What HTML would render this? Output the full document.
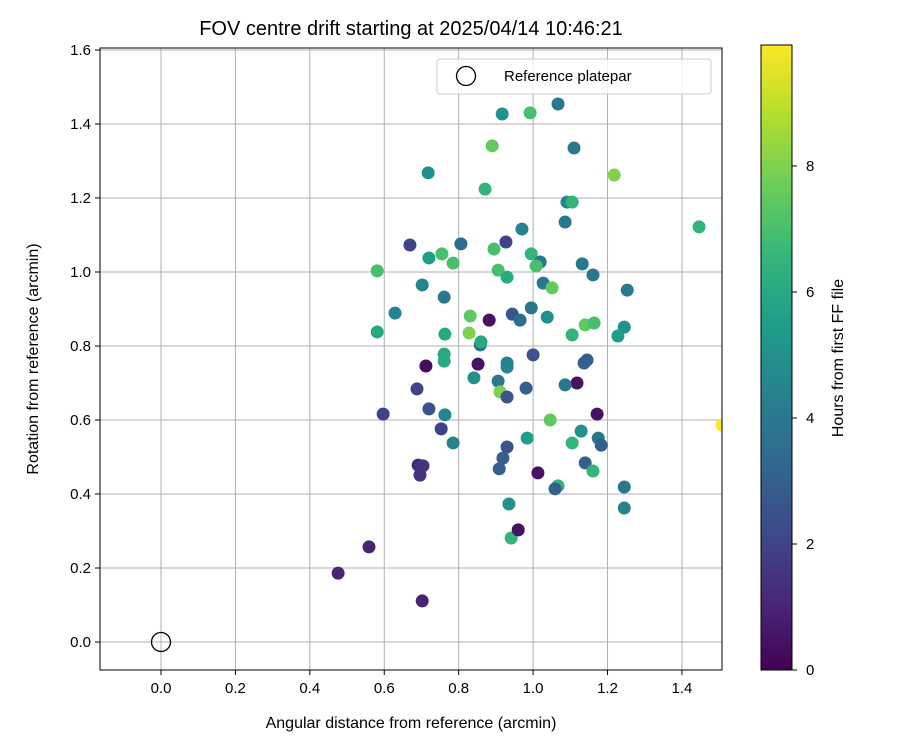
<!DOCTYPE html>
<html><head><meta charset="utf-8"><style>
body{margin:0;background:#fff;}
svg{display:block;font-family:"Liberation Sans","DejaVu Sans",sans-serif;}
</style></head><body>
<svg id="chart" width="900" height="750"></svg>
<script>
const xs=[1.067,0.917,0.992,0.890,1.110,0.718,1.218,0.871,1.091,1.105,1.446,0.970,1.086,0.669,0.806,0.927,0.895,0.755,0.720,0.995,1.019,0.785,1.008,0.581,0.906,1.132,0.930,1.161,0.702,1.027,1.051,1.253,0.761,0.629,0.995,0.944,1.038,0.831,0.965,0.882,1.140,1.164,1.245,0.581,0.763,1.105,1.228,0.828,0.858,0.860,0.712,0.761,0.761,0.852,0.930,0.930,1.000,1.137,1.145,0.841,0.906,1.118,1.086,0.981,0.688,0.911,0.930,0.597,0.720,0.763,1.172,1.046,1.508,0.753,1.129,0.785,0.984,1.105,1.175,1.183,0.930,0.919,0.691,0.704,0.696,0.909,1.013,1.067,1.059,1.140,1.161,1.245,0.935,1.245,0.941,0.960,0.559,0.476,0.702];
const ys=[1.454,1.427,1.430,1.341,1.335,1.268,1.262,1.224,1.189,1.189,1.122,1.116,1.135,1.073,1.076,1.081,1.062,1.049,1.038,1.049,1.027,1.024,1.016,1.003,1.005,1.022,0.986,0.992,0.965,0.970,0.957,0.951,0.932,0.889,0.903,0.886,0.878,0.881,0.870,0.870,0.857,0.862,0.851,0.838,0.832,0.830,0.827,0.835,0.803,0.811,0.746,0.778,0.759,0.751,0.754,0.743,0.776,0.754,0.762,0.714,0.705,0.700,0.695,0.686,0.684,0.676,0.662,0.616,0.630,0.614,0.616,0.600,0.586,0.576,0.570,0.538,0.551,0.538,0.551,0.532,0.527,0.497,0.478,0.476,0.451,0.468,0.457,0.422,0.414,0.484,0.462,0.419,0.373,0.362,0.281,0.303,0.257,0.186,0.111];
const hours=[4,5,7,7.5,4,5,8,6.5,4.5,6.5,6.5,4.5,4,2,3.5,2,7,7,5.5,6.5,4,7,7,7,7,4,6,4,4.5,4,7.5,4,4,4.5,4,2.5,5,7.5,3.5,0.5,7.5,7,5,6,6,6.5,5.5,8,3.5,6,0.3,6,6,0.5,4.5,4.5,2.5,3,3,5,4,0.5,4,3,2,8,2.5,2,2.5,4.5,0.5,7.5,9.9,2,5,4.5,5.5,6.5,4,3,2.5,3,1.2,1.5,1.5,3,0.5,6.5,3,3,6.5,4,5,4.5,6.5,0.5,1,1,1];
const xTicks=[0.0,0.2,0.4,0.6,0.8,1.0,1.2,1.4];
const yTicks=[0.0,0.2,0.4,0.6,0.8,1.0,1.2,1.4,1.6];
const cTicks=[0,2,4,6,8];
const hMax=9.92;
const NS="http://www.w3.org/2000/svg";
const svg=document.getElementById('chart');
const L=100,R=722,T=48,B=670;
const X=v=>161+v*372.1, Y=v=>642-v*370;
const C=v=>670-v*(625/hMax);
function mk(t,a,p){const e=document.createElementNS(NS,t);for(const k in a)e.setAttribute(k,a[k]);(p||svg).appendChild(e);return e;}
const vir=[[68,1,84],[72,40,120],[62,74,137],[49,104,142],[38,130,142],[31,158,137],[53,183,121],[109,205,89],[180,222,44],[253,231,37]];
function col(h){let t=Math.max(0,Math.min(1,h/hMax))*9;let i=Math.min(8,Math.floor(t)),f=t-i;const a=vir[i],b=vir[i+1];return `rgb(${a.map((v,k)=>Math.round(v+(b[k]-v)*f)).join(',')})`;}
// title
let e=mk('text',{x:411,y:35,'text-anchor':'middle','font-size':20});e.textContent='FOV centre drift starting at 2025/04/14 10:46:21';


const clip=mk('clipPath',{id:'cp'});mk('rect',{x:L,y:T,width:R-L,height:B-T},clip);
// grid & ticks
xTicks.forEach(v=>{
 const g=mk('line',{x1:X(v),x2:X(v),y1:T,y2:B,stroke:'#b0b0b0','stroke-width':1});
 
 
 mk('line',{x1:X(v),x2:X(v),y1:B,y2:B+5,stroke:'#000'});
 const t=mk('text',{x:X(v),y:B+23,'text-anchor':'middle','font-size':15});t.textContent=v.toFixed(1);
 
 
});
yTicks.forEach(v=>{
 const g=mk('line',{x1:L,x2:R,y1:Y(v),y2:Y(v),stroke:'#b0b0b0','stroke-width':1});
 
 
 mk('line',{x1:L-5,x2:L,y1:Y(v),y2:Y(v),stroke:'#000'});
 const t=mk('text',{x:L-9,y:Y(v)+5,'text-anchor':'end','font-size':15});t.textContent=v.toFixed(1);
 
 
});
// points
const pg=mk('g',{'clip-path':'url(#cp)'});


xs.forEach((v,i)=>{
 const c=mk('circle',{cx:X(v),cy:Y(ys[i]),r:6.5,fill:col(hours[i])},pg);
 
 
});
e=mk('circle',{cx:X(0),cy:Y(0),r:9.5,fill:'none',stroke:'#000','stroke-width':1.3});


e=mk('rect',{x:L,y:T,width:R-L,height:B-T,fill:'none',stroke:'#000','stroke-width':1});


// legend
const lg=mk('g',{});


mk('rect',{x:437,y:59,width:274,height:35,rx:3,fill:'#fff','fill-opacity':0.8,stroke:'#ccc'},lg);
mk('circle',{cx:466,cy:76,r:9.5,fill:'none',stroke:'#000','stroke-width':1.3},lg);
e=mk('text',{x:504,y:81,'font-size':15},lg);e.textContent='Reference platepar';


// axis titles
e=mk('text',{x:411,y:728,'text-anchor':'middle','font-size':16});e.textContent='Angular distance from reference (arcmin)';


e=mk('text',{x:38,y:359,'text-anchor':'middle','font-size':16,transform:'rotate(-90 38 359)'});e.textContent='Rotation from reference (arcmin)';


// colorbar
const defs=mk('defs',{});const gr=mk('linearGradient',{id:'vg',x1:0,y1:1,x2:0,y2:0},defs);
vir.forEach((c,i)=>mk('stop',{offset:i/9,'stop-color':`rgb(${c.join(',')})`},gr));
e=mk('rect',{x:761,y:45,width:31,height:625,fill:'url(#vg)',stroke:'#000','stroke-width':1});


cTicks.forEach(v=>{
 mk('line',{x1:792,x2:797,y1:C(v),y2:C(v),stroke:'#000'});
 const t=mk('text',{x:806,y:C(v)+5,'font-size':15});t.textContent=v;
 
 
});
e=mk('text',{x:843,y:358,'text-anchor':'middle','font-size':16,transform:'rotate(-90 843 358)'});e.textContent='Hours from first FF file';


</script>
</body></html>
